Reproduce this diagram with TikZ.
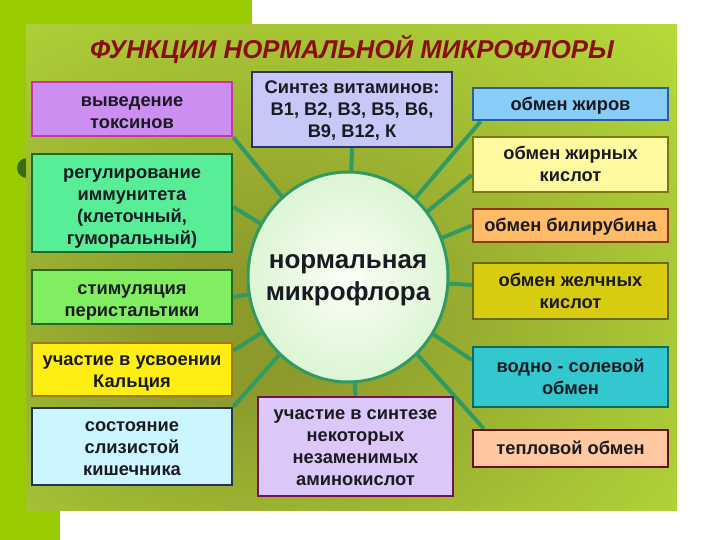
\documentclass[tikz,border=0pt]{standalone}
\usepackage{fontspec}
\setmainfont{Liberation Sans}
\usetikzlibrary{shapes.geometric}
\definecolor{limebg}{HTML}{99CC00}
\definecolor{bulletg}{HTML}{3A6A12}
\definecolor{olv}{HTML}{8C9A2C}
\definecolor{lim}{HTML}{B6DC3A}
\definecolor{conncol}{HTML}{2F9A62}
\definecolor{titlered}{HTML}{8A0E12}
\definecolor{txt}{HTML}{1A1A22}
\definecolor{toxf}{HTML}{CC8EF0}\definecolor{toxd}{HTML}{CC33AA}
\definecolor{immf}{HTML}{58EE98}\definecolor{immd}{HTML}{1F6B2A}
\definecolor{stimf}{HTML}{80EE60}
\definecolor{calcf}{HTML}{FFEE11}\definecolor{calcd}{HTML}{9A7A22}
\definecolor{mucf}{HTML}{CCF6FF}\definecolor{mucd}{HTML}{223355}
\definecolor{vitf}{HTML}{C8C8F8}\definecolor{vitd}{HTML}{303068}
\definecolor{aminof}{HTML}{DCC8F8}\definecolor{aminod}{HTML}{7A1050}
\definecolor{fatf}{HTML}{88CCF8}\definecolor{fatd}{HTML}{2A5AA8}
\definecolor{facf}{HTML}{FFFAA0}\definecolor{facd}{HTML}{7A7A10}
\definecolor{bilif}{HTML}{FFBB66}\definecolor{bilid}{HTML}{8A3A10}
\definecolor{bilef}{HTML}{D8CC10}\definecolor{biled}{HTML}{6A6A1A}
\definecolor{waterf}{HTML}{33C8D0}\definecolor{waterd}{HTML}{106A5A}
\definecolor{heatf}{HTML}{FFC8A0}\definecolor{heatd}{HTML}{6A1010}
\definecolor{mfin}{HTML}{FBFFF6}\definecolor{mfout}{HTML}{DCF5D4}
\pgfdeclareradialshading{panelshade}{\pgfpoint{-9bp}{-7bp}}{color(0bp)=(olv); color(6bp)=(olv); color(42bp)=(lim); color(90bp)=(lim)}
\pgfdeclarelayer{bg}
\pgfsetlayers{bg,main}
% text block lowered by #1 without changing its box
\newcommand\lowtxt[2]{\raisebox{-#1}[\height][\depth]{\begin{tabular}{@{}c@{}}#2\end{tabular}}}
\tikzset{
  fbox/.style={draw, line width=2.5pt, inner sep=2pt, text=txt,
    font=\fontsize{18.3}{22}\selectfont\bfseries},
  conn/.style={draw=conncol, line width=4pt},
}
\begin{document}
\begin{tikzpicture}[x=1pt,y=-1pt]
\useasboundingbox (0,0) rectangle (720,540);
\begin{pgfonlayer}{bg}
\fill[white] (0,0) rectangle (720,540);
\fill[limebg] (0,0) rectangle (252,25);
\fill[limebg] (0,0) rectangle (60,540);
\fill[bulletg] (27,168) circle (10);
\shade[shading=panelshade] (26,25) rectangle (677,510);
\end{pgfonlayer}

\node[text=titlered, font=\fontsize{25.8}{28}\selectfont\bfseries\itshape] (title) at (352,49) {ФУНКЦИИ НОРМАЛЬНОЙ МИКРОФЛОРЫ};

% left column
\node[fbox, fill=toxf, draw=toxd, minimum width=200, minimum height=54] (tox) at (132,109) {\lowtxt{4pt}{выведение\\токсинов}};
\node[fbox, fill=immf, draw=immd, minimum width=200, minimum height=98] (imm) at (132,203) {\lowtxt{4.5pt}{регулирование\\иммунитета\\(клеточный,\\гуморальный)}};
\node[fbox, fill=stimf, draw=immd, minimum width=200, minimum height=54] (stim) at (132,297) {\lowtxt{4.5pt}{стимуляция\\перистальтики}};
\node[fbox, fill=calcf, draw=calcd, minimum width=200, minimum height=53] (calc) at (132,369.5) {\lowtxt{3pt}{участие в усвоении\\Кальция}};
\node[fbox, fill=mucf, draw=mucd, minimum width=200, minimum height=77] (muc) at (132,446.5) {\lowtxt{3pt}{состояние\\слизистой\\кишечника}};

% center column
\node[fbox, fill=vitf, draw=vitd, minimum width=200, minimum height=75] (vit) at (352,109.5) {\lowtxt{2pt}{Синтез витаминов:\\В1, В2, В3, В5, В6,\\В9, В12, К}};
\node[fbox, fill=aminof, draw=aminod, minimum width=195, minimum height=99] (amino) at (355.5,446.5) {\lowtxt{2pt}{участие в синтезе\\некоторых\\незаменимых\\аминокислот}};

% right column
\node[fbox, fill=fatf, draw=fatd, minimum width=195, minimum height=32] (fat) at (570.5,104) {\lowtxt{2pt}{обмен жиров}};
\node[fbox, fill=facf, draw=facd, minimum width=195, minimum height=55] (fatacid) at (570.5,164.5) {\lowtxt{2pt}{обмен жирных\\кислот}};
\node[fbox, fill=bilif, draw=bilid, minimum width=195, minimum height=33] (bili) at (570.5,225.5) {\lowtxt{2pt}{обмен билирубина}};
\node[fbox, fill=bilef, draw=biled, minimum width=195, minimum height=56] (bile) at (570.5,291) {\lowtxt{2pt}{обмен желчных\\кислот}};
\node[fbox, fill=waterf, draw=waterd, minimum width=195, minimum height=60] (water) at (570.5,377) {\lowtxt{2pt}{водно - солевой\\обмен}};
\node[fbox, fill=heatf, draw=heatd, minimum width=195, minimum height=37] (heat) at (570.5,448.5) {\lowtxt{2pt}{тепловой обмен}};

% centre
\node[ellipse, draw=conncol, line width=3pt, inner color=mfin, outer color=mfout,
  minimum width=200, minimum height=210, inner sep=0pt,
  label={[align=center, text=txt, yshift=-3pt, font=\fontsize{26}{32}\selectfont\bfseries]center:нормальная\\микрофлора}] (mf) at (348,277) {};

\begin{pgfonlayer}{bg}
\draw[conn] (mf) -- (tox.south east);
\draw[conn] (mf) -- ([yshift=-4pt]imm.east);
\draw[conn] (mf) -- (stim.east);
\draw[conn] (mf) -- ([yshift=-9pt]calc.north east);
\draw[conn] (mf) -- (muc.north east);
\draw[conn] (mf) -- (vit.south);
\draw[conn] (mf) -- (amino.north);
\draw[conn] (mf) -- ([xshift=9pt]fat.south west);
\draw[conn] (mf) -- ([yshift=-10.5pt]fatacid.west);
\draw[conn] (mf) -- (bili.west);
\draw[conn] (mf) -- ([yshift=6pt]bile.west);
\draw[conn] (mf) -- ([yshift=17pt]water.west);
\draw[conn] (mf) -- ([xshift=12pt]heat.north west);
\end{pgfonlayer}
\end{tikzpicture}
\end{document}
